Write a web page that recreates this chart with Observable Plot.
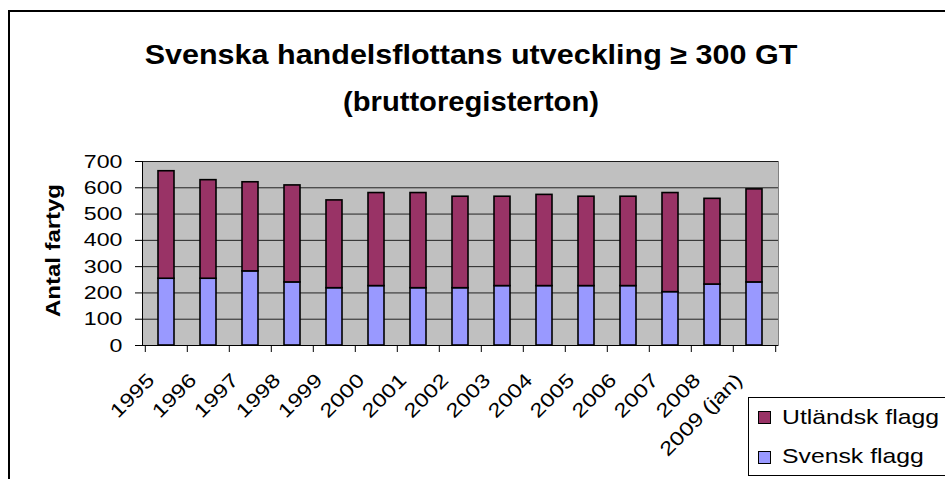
<!DOCTYPE html>
<html><head><meta charset="utf-8">
<script src="https://cdn.jsdelivr.net/npm/d3@7"></script>
<script src="https://cdn.jsdelivr.net/npm/@observablehq/plot@0.6"></script>
<style>
html,body{margin:0;padding:0;background:#fff;}
#chart{position:relative;width:945px;height:479px;overflow:hidden;font-family:"Liberation Sans",Arial,sans-serif;color:#000;}
#plot{position:absolute;left:0;top:0;}
#border{position:absolute;left:8px;top:10px;width:2000px;height:2000px;border:2px solid #000;box-sizing:border-box;pointer-events:none;}
.title{position:absolute;left:0;width:942px;text-align:center;font-weight:bold;font-size:27px;line-height:1;white-space:nowrap;transform-origin:471px 0;}
#legend{position:absolute;left:748px;top:397px;width:400px;height:79px;border:1px solid #000;box-sizing:border-box;background:#fff;}
.sw{position:absolute;width:13px;height:13px;border:1.5px solid #000;box-sizing:border-box;}
.lt{position:absolute;font-size:21px;line-height:1;white-space:nowrap;transform-origin:0 0;}
</style>
</head><body>
<div id="chart">
  <div id="plot"></div>
  <div id="border"></div>
  <div class="title" id="t1"></div>
  <div class="title" id="t2"></div>
  <div id="legend"></div>
  <div id="legItems"></div>
</div>
<script>
// ---- data ----
const titleLines = ["Svenska handelsflottans utveckling \u2265 300 GT", "(bruttoregisterton)"];
const yLabel = "Antal fartyg";
const years = ["1995","1996","1997","1998","1999","2000","2001","2002","2003","2004","2005","2006","2007","2008","2009 (jan)"];
const svenskFlagg   = [254,254,282,240,218,226,218,218,226,226,226,226,203,232,240];
const utlandskFlagg = [409,375,339,369,334,354,362,348,340,347,340,340,377,326,354];
const yTicks = [0,100,200,300,400,500,600,700];
const seriesNames = ["Svensk flagg","Utländsk flagg"];
const seriesColors = ["#9999FF","#993366"];
const legendOrder = ["Utländsk flagg","Svensk flagg"];

// ---- table for Plot ----
const data = [];
years.forEach((y,i)=>data.push({year:y, flag:seriesNames[0], value:svenskFlagg[i]}));
years.forEach((y,i)=>data.push({year:y, flag:seriesNames[1], value:utlandskFlagg[i]}));

const W=945, H=479, mL=142, mR=167, mT=161, mB=134;
const step = (W-mL-mR)/years.length;

const chart = Plot.plot({
  width:W, height:H, marginLeft:mL, marginRight:mR, marginTop:mT, marginBottom:mB,
  style:{fontFamily:"Liberation Sans, Arial, sans-serif", fontSize:"19px", color:"#000", background:"transparent", overflow:"visible"},
  x:{type:"band", domain:years, paddingInner:0.61, paddingOuter:0.305},
  y:{domain:[0,700]},
  color:{domain:seriesNames, range:seriesColors},
  marks:[
    Plot.frame({fill:"#C0C0C0", stroke:"#808080"}),
    Plot.gridY(yTicks, {stroke:"#111", strokeOpacity:0.9, strokeWidth:1}),
    Plot.barY(data, Plot.stackY({x:"year", y:"value", fill:"flag", stroke:"#000", strokeWidth:1.6, order:seriesNames})),
    Plot.frame({anchor:"left", stroke:"#000"}),
    Plot.ruleY([0], {stroke:"#000"}),
    Plot.axisY(yTicks, {tickSize:7, tickPadding:13, label:null, tickFormat:d=>String(d)}),
    Plot.axisX(years, {tickSize:7, tickFormat:()=>"", label:null, dx:-step/2}),
    Plot.axisX([years[years.length-1]], {tickSize:7, tickFormat:()=>"", label:null, dx:step/2}),
    Plot.text(years, {x:d=>d, text:d=>d, frameAnchor:"bottom", rotate:-45, textAnchor:"end", lineAnchor:"bottom", dy:36, dx:-11, fontSize:19.5}),
    Plot.text([yLabel], {text:d=>d, frameAnchor:"left", rotate:-90, textAnchor:"middle", dx:-89, dy:-3, fontSize:21, fontWeight:"bold"})
  ]
});
document.getElementById("plot").appendChild(chart);

// stretch text along its writing direction to match the reference's wide lettering
function stretch(el, s){
  const t = el.getAttribute("transform") || "";
  el.setAttribute("transform", t + ` scale(${s},1)`);
}
chart.querySelectorAll('g[aria-label="y-axis tick label"] text').forEach(el=>stretch(el,1.22));
const textGroups = chart.querySelectorAll('g[aria-label="text"]');
if (textGroups[0]) textGroups[0].querySelectorAll("text").forEach(el=>stretch(el,1.22));
if (textGroups[1]) textGroups[1].querySelectorAll("text").forEach(el=>stretch(el,1.14));

// title
const t1 = document.getElementById("t1"), t2 = document.getElementById("t2");
t1.textContent = titleLines[0]; t2.textContent = titleLines[1];
t1.style.top = "42px"; t2.style.top = "89px";
t1.style.transform = "scaleX(1.13)"; t2.style.transform = "scaleX(1.08)";

// legend
const li = document.getElementById("legItems");
const colorOf = Object.fromEntries(seriesNames.map((n,i)=>[n, seriesColors[i]]));
legendOrder.forEach((name,i)=>{
  const sw = document.createElement("div");
  sw.className = "sw"; sw.style.left = "758px"; sw.style.top = (411 + i*40) + "px";
  sw.style.background = colorOf[name];
  li.appendChild(sw);
  const tx = document.createElement("div");
  tx.className = "lt"; tx.textContent = name;
  tx.style.left = "782px"; tx.style.top = (406 + i*39) + "px";
  tx.style.transform = "scaleX(1.18)";
  li.appendChild(tx);
});
</script>
</body></html>
